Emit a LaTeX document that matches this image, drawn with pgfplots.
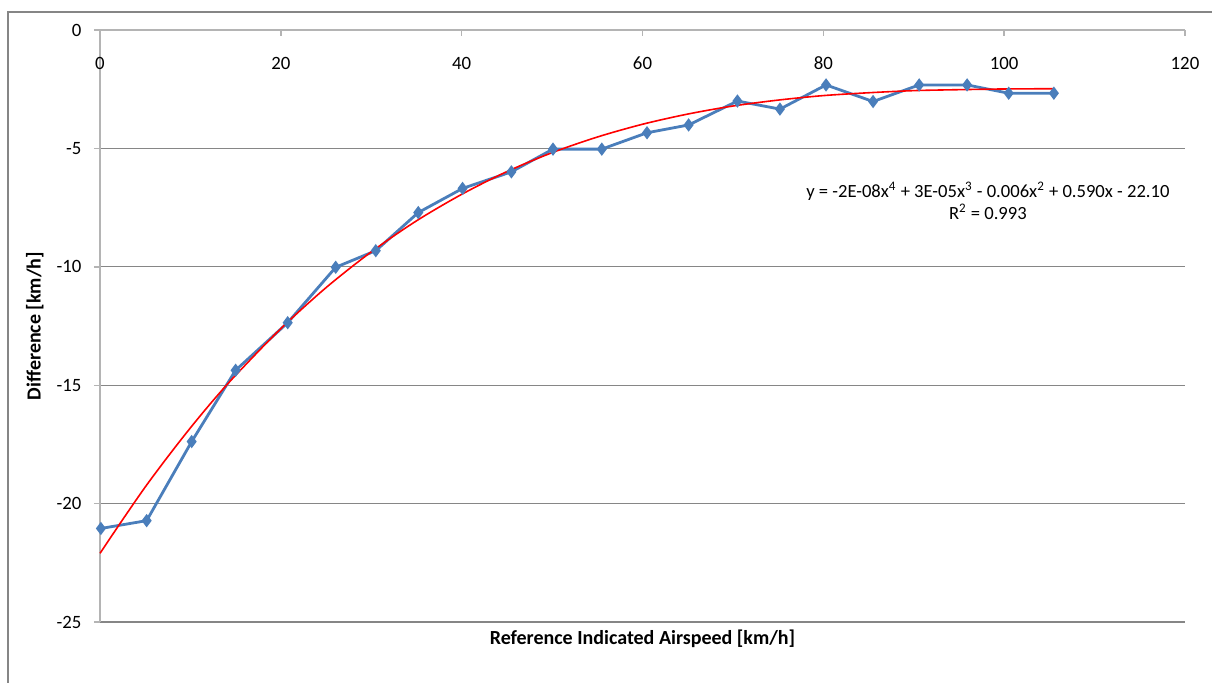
\documentclass[border=0pt]{standalone}
\usepackage{pgfplots}
\pgfplotsset{compat=1.18}
\usepackage{fontspec}
\setmainfont{Carlito}
\definecolor{framegray}{RGB}{134,134,134}
\definecolor{gridgray}{RGB}{134,134,134}
\definecolor{axisgray}{RGB}{180,180,180}
\definecolor{xlblue}{RGB}{74,126,187}
\begin{document}
\fontsize{9.4}{11}\selectfont
\begin{tikzpicture}
\path[use as bounding box] (0,0) rectangle (606pt,341pt);
\draw[framegray, line width=0.6pt] (4pt,-3pt) -- (4pt,335pt) -- (612pt,335pt);
\begin{axis}[
  at={(50pt,30pt)}, anchor=south west,
  scale only axis, width=542.5pt, height=296pt,
  xmin=0, xmax=120, ymin=-25, ymax=0,
  xtick={0,20,...,120}, ytick={-25,-20,...,0},
  axis x line*=top, axis y line*=left,
  axis line style={-, draw=axisgray, line width=0.7pt},
  tick align=inside, major tick length=3pt,
  tick style={axisgray, line width=0.7pt},
  ytick style={xshift=-3pt},
  ymajorgrids, grid style={gridgray, line width=0.6pt},
  /pgf/number format/assume math mode=true,
  tick label style={font=\fontsize{9.4}{11}\selectfont},
  xticklabel style={anchor=center, yshift=-16.5pt},
  yticklabel style={xshift=-6pt},
  xlabel={Reference Indicated Airspeed [km/h]},
  ylabel={Difference [km/h]},
  label style={font=\fontsize{10}{12}\selectfont\bfseries},
  xlabel style={at={(axis description cs:0.5,0)}, anchor=north, yshift=-0.5pt},
  clip=false,
]
\addplot[xlblue, line width=1.4pt, mark=diamond*, mark size=2.2pt, mark options={solid}] coordinates {
(0.1,-21.05) (5.16,-20.72) (10.14,-17.38) (15.0,-14.37) (20.76,-12.36)
(26.07,-10.02) (30.5,-9.32) (35.2,-7.71) (40.1,-6.69) (45.5,-5.99)
(50.1,-5.03) (55.5,-5.03) (60.5,-4.34) (65.1,-4.01) (70.5,-3.0)
(75.2,-3.34) (80.3,-2.32) (85.5,-3.02) (90.6,-2.32) (95.9,-2.32)
(100.5,-2.67) (105.5,-2.67)
};
\addplot[red, line width=0.8pt, smooth] coordinates {
(0,-22.10) (2.5,-20.68) (5,-19.30) (7.5,-18.02) (10,-16.80) (12.5,-15.65) (15,-14.58)
(20,-12.61) (25,-10.88) (30,-9.37) (35,-8.06) (40,-6.94)
(45,-5.98) (50,-5.18) (55,-4.52) (60,-3.98) (65,-3.55)
(70,-3.21) (75,-2.96) (80,-2.77) (85,-2.65) (90,-2.56)
(95,-2.52) (100,-2.49) (105.5,-2.48)
};
\node[align=center, font=\fontsize{9.3}{11}\selectfont] at (axis cs:98.2,-7.22)
 {y = -2E-08x\textsuperscript{4} + 3E-05x\textsuperscript{3} - 0.006x\textsuperscript{2} + 0.590x - 22.10\\
  R\textsuperscript{2} = 0.993};
\end{axis}
\end{tikzpicture}
\end{document}
